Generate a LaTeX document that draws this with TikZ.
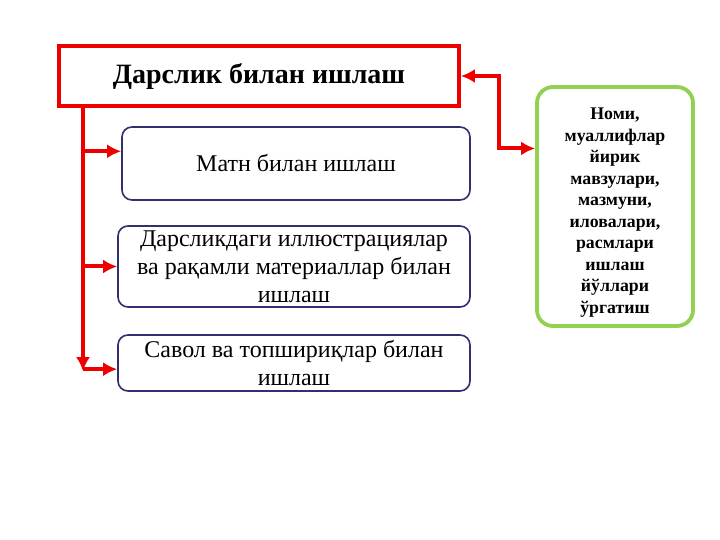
\documentclass[tikz,border=0pt]{standalone}
\usepackage{fontspec}
\setmainfont{Liberation Serif}
\usetikzlibrary{arrows.meta,positioning}
\definecolor{red}{RGB}{237,0,0}
\definecolor{navy}{RGB}{48,48,112}
\definecolor{green}{RGB}{146,208,80}
\tikzset{
  topicbox/.style={draw=red, line width=3.8pt, fill=white, minimum width=400pt, minimum height=60pt, font=\fontsize{28}{32}\selectfont\bfseries},
  itembox/.style={draw=navy, line width=1.6pt, fill=white, rounded corners=10pt, minimum width=352pt, align=center, inner sep=0pt},
  notebox/.style={draw=green, line width=3.8pt, fill=white, rounded corners=16pt, minimum width=156pt, minimum height=239pt, align=center, font=\fontsize{17.8}{21.5}\selectfont\bfseries},
  feed/.style={red, line width=4pt, -{Latex[length=14pt,width=14pt]}}
}

\begin{document}
\begin{tikzpicture}[x=1pt, y=1pt, font=\fontsize{24}{28}\selectfont]
\useasboundingbox (0,0) rectangle (720,540);
\node[topicbox] (title) at (259,464) {Дарслик билан ишлаш};
\node[itembox, minimum width=348pt, minimum height=73pt] (text) at (296,376.5) {Матн билан ишлаш};
\node[itembox, minimum height=81pt] (figures) at (294,273.5) {Дарсликдаги иллюстрациялар\\ва рақамли материаллар билан\\ишлаш};
\node[itembox, minimum height=56pt] (tasks) at (294,177) {Савол ва топшириқлар билан\\ишлаш};
\node[notebox] (note) at (615,333.5) {\rule{0pt}{24pt}Номи,\\муаллифлар\\йирик\\мавзулари,\\мазмуни,\\иловалари,\\расмлари\\ишлаш\\йўллари\\ўргатиш};
\coordinate (spine) at (83,434);
% left bus
\draw[feed] (spine) -- ([yshift=-2pt]spine |- tasks.182);
\draw[feed] (spine |- text.176) -- (text.176);
\draw[feed] (spine |- figures.west) -- (figures.west);
\draw[feed] (spine |- tasks.182) -- (tasks.182);
% link to the note
\draw[feed, {Latex[length=14pt,width=14pt]}-{Latex[length=14pt,width=14pt]}] (title.east) -- ++(38,0) |- (note.144);
\end{tikzpicture}
\end{document}
